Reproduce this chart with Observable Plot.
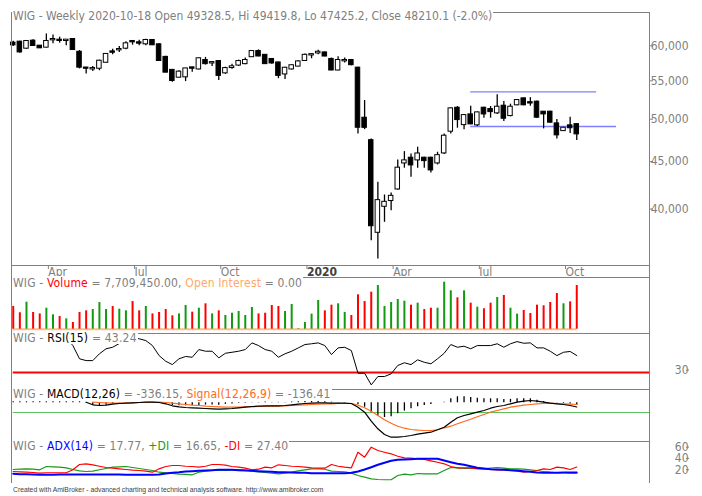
<!DOCTYPE html>
<html><head><meta charset="utf-8">
<script src="https://cdn.jsdelivr.net/npm/d3@7"></script>
<script src="https://cdn.jsdelivr.net/npm/@observablehq/plot@0.6"></script>
<style>
html,body{margin:0;padding:0;background:#fff;}
#chart{position:relative;width:702px;height:496px;overflow:hidden;font-family:"DejaVu Sans Condensed","DejaVu Sans",sans-serif;}
.ttl{position:absolute;left:12px;background:#fff;color:#808080;font-size:12px;white-space:nowrap;padding:0 1px;line-height:12px;height:12px;letter-spacing:0.15px;}
.sides{position:absolute;left:11px;top:12px;width:637px;height:471px;border-left:1px solid #808080;border-right:1px solid #808080;}
.foot{position:absolute;left:13px;top:486px;font-size:6.8px;line-height:8px;color:#404040;white-space:nowrap;font-family:"Liberation Sans",sans-serif;}
</style></head><body><div id="chart"></div>
<script>
const GRAY = "#808080";
const FONT = '"DejaVu Sans Condensed", "DejaVu Sans", sans-serif';

// Weekly bars: index 0 = week ending 2019-03-03 ... index 85 = week ending 2020-10-18
const open = [60400,60550,59650,60700,59950,59800,60900,60850,60800,60950, 59050,56780,56650,56750,57600,59100,59400,59650,60650,60450, 60300,60800,60150,58300,56450,55500,55550,56800,56650,57850, 57500,57700,56100,56850,57200,57400,58400,59150,58600,58000, 57500,55950,56650,57050,57850,58650,58950,58950,58000,56500, 57800,57850,56760,50120,47400,37750,40270,40850,42040,44850, 45380,45190,45380,45380,44850,45980,48530,51380,49330,50540, 49300,51380,51210,50790,51640,50450,51820,52590,52100,52160, 50880,50880,49420,48600,49180,49328.5];
const high = [60700,60700,60800,60900,60050,61800,61650,61300,60900,61000, 59300,56850,57000,57900,58850,59500,59900,60600,60700,60850, 61000,60900,60300,58450,56500,56400,56750,56900,58200,58300, 57700,57800,56900,57300,57900,58200,59300,59400,58700,58100, 57600,56900,57200,57800,58800,58800,59350,59100,58200,58400, 58200,58000,56900,52370,47600,42750,41420,41620,45190,46130, 45860,46640,45500,45500,46060,48200,51400,51590,50600,51640, 50900,51500,51600,53120,52240,51900,52500,52700,52750,52300, 50950,51000,49950,49000,50250,49419.8];
const low = [59900,58900,59500,59900,59600,59700,60300,60400,60000,59400, 56660,55960,56300,56400,57500,58700,59000,59400,60100,60000, 60000,60050,57800,56100,54800,55400,54900,56200,56500,57200, 57000,55050,55900,56600,57000,57250,58300,58400,57300,57300, 55300,55200,56500,56950,57750,58100,58700,58400,56400,56400, 57500,57100,48200,48720,36970,35320,38700,39830,41900,44270, 43280,44270,44270,43750,44630,45790,48200,48890,48720,49300, 49100,50120,50120,50600,49700,50300,51700,51700,51640,50100, 48810,49500,47610,48500,48250,47425.2];
const close = [60150,59100,60650,60050,59700,60650,60950,60800,60850,59450, 56900,56750,56700,57750,58730,59050,59450,60300,60600,60400, 60800,60150,57850,56200,55050,56200,56650,56750,58100,57400, 57550,55750,56700,56950,57700,57850,59150,58500,57400,57500, 55750,56750,57100,57650,58600,58700,59050,58500,56500,57850, 57850,57250,49010,49000,38370,40840,40670,41280,44270,45080, 44630,45860,45110,44080,45670,47930,51300,49950,50450,49420, 50790,50660,50950,51510,50120,51510,52370,51820,52050,50250, 50660,49630,48090,48890,48950,48210.1];
const volume = [4.00e6,2.90e6,4.76e6,2.95e6,2.70e6,3.70e6,2.54e6,2.24e6,1.83e6,1.18e6, 2.95e6,3.24e6,3.47e6,4.70e6,3.47e6,4.00e6,3.53e6,3.24e6,4.88e6,3.24e6, 4.00e6,2.70e6,2.95e6,3.47e6,2.36e6,2.70e6,4.18e6,3.00e6,3.70e6,4.48e6, 2.70e6,3.24e6,2.42e6,2.82e6,3.12e6,2.42e6,3.83e6,2.70e6,2.82e6,4.18e6, 4.00e6,3.12e6,4.36e6,0.10e6,1.18e6,2.65e6,5.06e6,3.24e6,4.24e6,4.48e6, 2.95e6,2.42e6,6.07e6,4.88e6,6.53e6,7.71e6,4.00e6,4.71e6,5.24e6,4.94e6, 4.24e6,4.59e6,3.47e6,3.70e6,3.70e6,8.29e6,6.77e6,5.54e6,6.77e6,4.59e6, 3.88e6,3.60e6,4.59e6,5.59e6,5.94e6,3.70e6,2.65e6,3.30e6,2.77e6,4.24e6, 4.13e6,4.71e6,6.30e6,4.48e6,4.83e6,7709450];
const openInterest = 0;
const rsi15 = [57,55,58,56,54,58,59,58,57,51.0, 40.7,39.3,39.3,44.6,48.5,49.7,52.6,55.0,57.0,56.3, 54.9,51.0,43.2,38.8,36.2,40.7,42.5,41.9,47.9,46.6, 46.6,41.4,45.0,45.8,46.6,47.9,53.1,51.0,47.9,46.6, 41.9,44.6,46.6,49.2,51.8,52.4,53.1,51.0,44.0,49.2, 49.7,47.1,29.5,29.5,20.4,26.9,26.9,29.0,35.5,37.6, 36.2,39.9,38.0,36.8,40.7,45.0,51.8,49.7,50.5,48.5, 51.0,51.0,51.0,52.4,49.7,52.4,54.1,52.8,53.1,49.2, 49.2,46.6,43.2,45.8,46.4,43.24];
const rsiLevel = 30;
const macdLine = [null,null,null,null,null,null,null,null,null,null, null,48,-160,-216,-192,-112,-56,-32,0,24, 48,48,24,-80,-240,-320,-376,-400,-432,-456, -480,-512,-480,-456,-400,-352,-296,-272,-240,-240, -240,-216,-160,-112,-56,-32,0,0,-32,-32, -32,-56,-352,-752,-1472,-2080,-2536,-2752,-2752,-2696, -2616,-2512,-2432,-2352,-2160,-1952,-1552,-1200,-1016,-880, -752,-616,-432,-296,-216,-80,48,128,184,128, 48,-32,-80,-136,-216,-336.15];
const signalLine = [null,null,null,null,null,null,null,null,null,null, null,null,48,24,0,-32,-32,-16,0,24, 40,48,48,24,-32,-80,-136,-192,-216,-272, -296,-320,-352,-352,-352,-320,-320,-296,-296,-272, -272,-240,-216,-192,-160,-136,-112,-80,-80,-56, -56,-56,-192,-400,-672,-1016,-1360,-1632,-1872,-2032, -2136,-2192,-2216,-2216,-2160,-2000,-1872,-1680,-1496,-1312, -1120,-936,-752,-616,-480,-352,-272,-192,-136,-80, -56,-32,-56,-80,-112,-136.41];
const macdHist = [80,80,80,80,80,80,80,80,80,80, 80,-40,-208,-240,-192,-80,-24,-16,0,0, 8,0,-24,-104,-208,-240,-240,-208,-216,-184, -184,-192,-128,-104,-48,-32,24,24,56,32, 32,24,56,80,104,104,112,80,48,24, 24,0,-160,-352,-800,-1064,-1176,-1120,-880,-664, -480,-320,-216,-136,0,48,320,480,480,432, 368,320,320,320,264,272,320,320,320,208, 104,0,-24,-56,-104,-199.74];
const macdLevel = -776;
const adx14 = [15.4,14.7,14.7,14.2,13.6,13.6,13.6,14.2,14.2,14.2, 14.2,14.2,14.2,14.2,14.2,14.2,14.2,13.6,13.6,13.6, 13.6,13.6,14.2,15.9,17.2,18.2,19.5,20.0,20.7,21.2, 21.8,22.5,22.5,22.5,21.8,21.2,20.7,20.0,19.5,18.9, 18.2,18.2,17.7,17.2,17.2,16.5,16.5,16.5,16.5,16.5, 16.5,17.2,19.5,23.0,27.1,31.3,34.9,38.4,40.2,40.7, 41.3,41.9,41.9,41.9,41.9,38.9,35.9,33.1,31.3,28.8, 26.0,24.8,23.5,23.0,22.5,21.8,21.2,20.0,18.9,17.7, 17.2,17.2,17.2,17.7,17.7,17.77];
const plusDI = [23.0,23.5,24.2,23.5,22.5,28.3,27.7,27.1,26.0,23.0, 20.7,19.5,20.0,22.5,24.8,27.1,27.7,28.3,26.5,24.8, 23.0,21.2,18.2,17.2,15.9,14.7,14.2,13.6,18.2,20.0, 21.2,21.2,21.2,21.8,22.5,21.8,20.0,18.9,17.7,16.5, 15.4,16.5,18.2,20.7,22.5,24.2,24.2,23.5,20.0,19.5, 18.9,16.5,12.4,9.4,6.5,5.3,4.8,4.8,12.4,14.7, 13.6,15.9,15.4,15.4,15.4,21.2,26.5,26.0,24.8,25.3, 24.8,24.2,25.3,26.5,25.3,24.2,24.2,23.5,22.5,21.2, 19.5,18.2,17.2,17.2,16.5,16.65];
const minusDI = [19.5,18.9,18.2,17.7,16.5,17.2,17.2,17.2,17.2,22.5, 31.9,33.1,31.3,28.8,26.5,25.3,24.2,23.0,21.8,21.2, 20.0,18.2,24.2,28.3,30.1,30.1,28.8,28.3,27.1,28.8, 31.9,31.9,30.6,28.3,27.1,25.3,22.5,23.5,27.1,26.0, 31.3,30.1,28.8,28.3,27.1,26.0,25.3,25.3,31.9,28.8, 27.1,26.0,53.6,44.8,62.5,56.6,53.6,50.8,46.5,43.7, 43.0,41.9,40.7,38.4,35.9,33.1,28.3,26.0,26.0,26.0, 24.2,24.2,23.0,22.5,22.5,21.2,20.0,18.2,19.5,21.2, 24.2,23.0,27.1,26.0,23.0,27.40];
const trendFrom = [69, 69];
const trendTo = [88, 91];
const trendLevel = [53500, 49100];
const priceTicks = [40000, 45000, 50000, 55000, 60000];
const rsiTicks = [30];
const adxTicks = [20, 40, 60];
const monthTickIdx = [5, 18, 31, 57, 70, 83];
const monthTickLabels = ["Apr", "Jul", "Oct", "Apr", "Jul", "Oct"];
const yearTickIdx = [44];
const yearTickLabels = ["2020"];

const chart = document.getElementById("chart");
const idx = close.map((_, i) => i);
const lastIdx = idx.length - 1;
const xDomain = [-0.26, 95.97];
const baseStyle = {background: "transparent", color: GRAY, fontFamily: FONT, fontSize: "12px"};
const common = {width: 702, marginLeft: 11, marginRight: 53, style: baseStyle};
function place(svg, top) {
  svg.style.position = "absolute";
  svg.style.left = "0px";
  svg.style.top = top + "px";
  svg.style.overflow = "hidden";
  chart.appendChild(svg);
}
const upColor = i => close[i] > open[i];
const fmt = d3.format(",");

// ---- Price pane
place(Plot.plot({
  ...common, height: 276, marginTop: 12, marginBottom: 11,
  x: {domain: xDomain},
  y: {type: "log", domain: [34760, 65180]},
  marks: [
    Plot.frame({stroke: GRAY}),
    Plot.axisY(priceTicks, {anchor: "right", tickFormat: () => "", tickSize: 3, tickPadding: 0, label: null}),
    Plot.text(priceTicks, {y: d => d, text: d => fmt(d), frameAnchor: "right", textAnchor: "end", dx: 39, fill: GRAY}),
    Plot.axisX(monthTickIdx, {anchor: "bottom", tickSize: 4, tickPadding: -2, textAnchor: "start", dx: 2, label: null,
      tickFormat: d => monthTickLabels[monthTickIdx.indexOf(d)]}),
    Plot.axisX(yearTickIdx, {anchor: "bottom", tickSize: 4, tickPadding: -2, textAnchor: "start", dx: 2, label: null,
      fontWeight: "bold", fill: "#404040", tickFormat: d => yearTickLabels[yearTickIdx.indexOf(d)]}),
    Plot.ruleY(trendLevel, {y: d => d, x1: (d, i) => trendFrom[i], x2: (d, i) => trendTo[i], stroke: "#7f7fff", strokeWidth: 1.3}),
    Plot.ruleX(idx, {x: i => i, y1: i => low[i], y2: i => high[i], stroke: "black", strokeWidth: 1.3}),
    Plot.rect(idx, {x1: i => i - 0.34, x2: i => i + 0.34, y1: i => open[i], y2: i => close[i],
      insetTop: -0.5, insetBottom: -0.5, fill: i => upColor(i) ? "white" : "black", stroke: "black", strokeWidth: 1})
  ]
}), 0);

// ---- Volume pane
place(Plot.plot({
  ...common, height: 72, marginTop: 8, marginBottom: 8,
  x: {domain: xDomain, axis: null},
  y: {domain: [-0.76e6, 9.12e6], axis: null},
  marks: [
    Plot.frame({stroke: GRAY}),
    Plot.ruleY([openInterest], {x1: 0, x2: lastIdx, stroke: "#ffbb88", strokeWidth: 2}),
    Plot.ruleX(idx, {x: i => i, y1: 0, y2: i => volume[i], stroke: i => upColor(i) ? "#129a12" : "#ff0000", strokeWidth: 2})
  ]
}), 269);

// ---- RSI pane
place(Plot.plot({
  ...common, height: 72, marginTop: 8, marginBottom: 8,
  x: {domain: xDomain, axis: null},
  y: {domain: [16.8, 60.4]},
  marks: [
    Plot.frame({stroke: GRAY}),
    Plot.axisY(rsiTicks, {anchor: "right", tickSize: 3, tickPadding: 0, textAnchor: "end", dx: 36, dy: -2.5, label: null}),
    Plot.ruleY([rsiLevel], {x1: 0, x2: xDomain[1], stroke: "#ff0000", strokeWidth: 2}),
    Plot.lineY(idx, {x: i => i, y: i => rsi15[i], stroke: "black", strokeWidth: 1})
  ]
}), 325);

// ---- MACD pane
place(Plot.plot({
  ...common, height: 68, marginTop: 8, marginBottom: 8,
  x: {domain: xDomain, axis: null},
  y: {domain: [-3096, 1064], axis: null},
  marks: [
    Plot.frame({stroke: GRAY}),
    Plot.ruleY([macdLevel], {x1: 0, x2: xDomain[1], stroke: "#5fc05f", strokeWidth: 1}),
    Plot.ruleX(idx, {x: i => i, y1: 0, y2: i => macdHist[i], stroke: "black", strokeWidth: 1.3}),
    Plot.lineY(idx, {x: i => i, y: i => signalLine[i], stroke: "#ff6a20", strokeWidth: 1.2}),
    Plot.lineY(idx, {x: i => i, y: i => macdLine[i], stroke: "black", strokeWidth: 1.2})
  ]
}), 381);

// ---- ADX pane
place(Plot.plot({
  ...common, height: 58, marginTop: 8, marginBottom: 8,
  x: {domain: xDomain, axis: null},
  y: {domain: [-1.8, 72.6]},
  marks: [
    Plot.ruleY([72.6], {stroke: GRAY}),
    Plot.axisY(adxTicks, {anchor: "right", tickSize: 3, tickPadding: 0, textAnchor: "end", dx: 36, dy: -1.5, label: null}),
    Plot.lineY(idx, {x: i => i, y: i => plusDI[i], stroke: "#1a9a1a", strokeWidth: 1.2}),
    Plot.lineY(idx, {x: i => i, y: i => minusDI[i], stroke: "#ff0000", strokeWidth: 1.2}),
    Plot.lineY(idx, {x: i => i, y: i => adx14[i], stroke: "#0000ff", strokeWidth: 2})
  ]
}), 433);

// ---- frame sides, titles, footer
const sides = document.createElement("div");
sides.className = "sides";
chart.appendChild(sides);

function title(top, parts, spacing) {
  const d = document.createElement("div");
  d.className = "ttl";
  d.style.top = top + "px";
  if (spacing !== undefined) d.style.letterSpacing = spacing;
  for (const [t, c] of parts) {
    const s = document.createElement("span");
    s.textContent = t;
    if (c) s.style.color = c;
    d.appendChild(s);
  }
  chart.appendChild(d);
}
title(10, [["WIG - Weekly 2020-10-18 Open 49328.5, Hi 49419.8, Lo 47425.2, Close 48210.1 (-2.0%)"]], "0px");
title(277, [["WIG - "], ["Volume", "#ff0000"], [" = 7,709,450.00, "], ["Open Interest", "#ffa868"], [" = 0.00"]]);
title(332, [["WIG - "], ["RSI(15)", "#000000"], [" = 43.24"]], "0.2px");
title(388, [["WIG - "], ["MACD(12,26)", "#000000"], [" = -336.15, "], ["Signal(12,26,9)", "#ff6a20"], [" = -136.41"]]);
title(440, [["WIG - "], ["ADX(14)", "#0000ff"], [" = 17.77, "], ["+DI", "#1a9a1a"], [" = 16.65, "], ["-DI", "#ff0000"], [" = 27.40"]]);

const foot = document.createElement("div");
foot.className = "foot";
foot.textContent = "Created with AmiBroker - advanced charting and technical analysis software. http://www.amibroker.com";
chart.appendChild(foot);
</script></body></html>
